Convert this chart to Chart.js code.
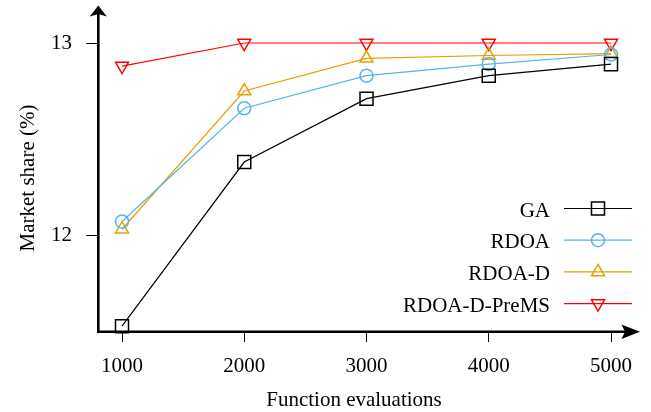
<!DOCTYPE html>
<html><head><meta charset="utf-8">
<script src="https://cdn.jsdelivr.net/npm/chart.js@4/dist/chart.umd.min.js"></script>
<style>html,body{margin:0;padding:0;background:#fff}canvas{display:block}</style>
</head><body>
<canvas id="c" width="651" height="412"></canvas>
<script>
const evaluations = [1000, 2000, 3000, 4000, 5000];
const seriesNames = ['GA', 'RDOA', 'RDOA-D', 'RDOA-D-PreMS'];
const gaValues = [11.525, 12.38, 12.71, 12.83, 12.89];
const rdoaValues = [12.07, 12.66, 12.83, 12.89, 12.94];
const rdoaDValues = [12.03, 12.75, 12.92, 12.935, 12.945];
const preMSValues = [12.88, 13.0, 13.0, 13.0, 13.0];
const yTickValues = [12, 13];
const xTitle = 'Function evaluations';
const yTitle = 'Market share (%)';

const FONT = '"Liberation Serif", "Times New Roman", serif';

function mk(label, values, color, style, radius, rotation) {
  return {
    label: label,
    data: evaluations.map((x, i) => ({ x: x, y: values[i] })),
    borderColor: color,
    borderWidth: 1.2,
    pointStyle: style,
    pointRadius: radius,
    pointHoverRadius: radius,
    pointRotation: rotation || 0,
    pointBorderWidth: 1.5,
    pointBorderColor: color,
    pointBackgroundColor: 'rgba(0,0,0,0)',
    fill: false,
    clip: false,
    tension: 0
  };
}

const datasets = [
  mk(seriesNames[0], gaValues, '#000000', 'rect', 9.2, 0),
  mk(seriesNames[1], rdoaValues, '#56B4E9', 'circle', 6.5, 0),
  mk(seriesNames[2], rdoaDValues, '#E69F00', 'triangle', 7.5, 0),
  mk(seriesNames[3], preMSValues, '#FF0000', 'triangle', 7.5, 180)
];

const decorPlugin = {
  id: 'decor',
  beforeDatasetsDraw(chart) {
    const ctx = chart.ctx;
    ctx.save();
    ctx.fillStyle = '#000';
    ctx.strokeStyle = '#000';
    ctx.lineWidth = 2.6;
    const ax = 98.3, ay = 331.7;
    ctx.beginPath(); ctx.moveTo(ax, ay + 1.3); ctx.lineTo(ax, 12); ctx.stroke();
    ctx.beginPath();
    ctx.moveTo(ax, 5.5); ctx.lineTo(ax + 8.5, 16.5); ctx.lineTo(ax, 14); ctx.lineTo(ax - 8.5, 16.5); ctx.closePath(); ctx.fill();
    ctx.beginPath(); ctx.moveTo(ax - 1.3, ay); ctx.lineTo(630, ay); ctx.stroke();
    ctx.beginPath();
    ctx.moveTo(640, ay); ctx.lineTo(621.5, ay - 7.3); ctx.lineTo(625, ay); ctx.lineTo(621.5, ay + 7.3); ctx.closePath(); ctx.fill();
    ctx.restore();
  },
  afterDraw(chart) {
    const ctx = chart.ctx;
    ctx.save();
    ctx.fillStyle = '#000';
    ctx.font = '21px ' + FONT;
    ctx.textAlign = 'center';
    ctx.textBaseline = 'alphabetic';
    ctx.fillText(xTitle, 354, 406);
    ctx.save();
    ctx.translate(34.3, 178);
    ctx.rotate(-Math.PI / 2);
    ctx.fillText(yTitle, 0, 0);
    ctx.restore();
    chart.data.datasets.forEach((ds, i) => {
      const y = 208.5 + i * 31.7;
      ctx.fillStyle = '#000';
      ctx.textAlign = 'right';
      ctx.textBaseline = 'alphabetic';
      ctx.fillText(ds.label, 550, y + 8);
      ctx.strokeStyle = ds.borderColor;
      ctx.lineWidth = ds.borderWidth;
      ctx.beginPath(); ctx.moveTo(564, y); ctx.lineTo(632, y); ctx.stroke();
      ctx.fillStyle = 'rgba(0,0,0,0)';
      ctx.strokeStyle = ds.pointBorderColor;
      ctx.lineWidth = ds.pointBorderWidth;
      Chart.helpers.drawPoint(ctx, {
        pointStyle: ds.pointStyle,
        radius: ds.pointRadius,
        rotation: ds.pointRotation || 0,
        borderWidth: ds.pointBorderWidth
      }, 598, y);
    });
    ctx.restore();
  }
};

new Chart(document.getElementById('c'), {
  type: 'line',
  data: { datasets: datasets },
  options: {
    responsive: false,
    animation: false,
    devicePixelRatio: 1,
    layout: { autoPadding: false, padding: { left: 0, top: 7, right: 12, bottom: 0 } },
    plugins: { legend: { display: false }, title: { display: false }, tooltip: { enabled: false } },
    elements: { line: { borderJoinStyle: 'miter' } },
    scales: {
      x: {
        type: 'linear',
        min: 795.5,
        max: 5229,
        afterFit: s => { s.height = 81; s.paddingLeft = 0; s.paddingRight = 0; },
        afterBuildTicks: s => { s.ticks = evaluations.map(v => ({ value: v })); },
        ticks: {
          callback: v => String(v),
          color: '#000',
          font: { family: FONT, size: 21 },
          padding: 12,
          maxRotation: 0,
          autoSkip: false
        },
        grid: { display: true, drawOnChartArea: false, drawTicks: true, tickLength: 11, color: '#000', lineWidth: 1 },
        border: { display: false },
        title: { display: false }
      },
      y: {
        type: 'linear',
        min: 11.5,
        max: 13.1875,
        afterFit: s => { s.width = 97; s.paddingTop = 0; s.paddingBottom = 0; },
        afterBuildTicks: s => { s.ticks = yTickValues.map(v => ({ value: v })); },
        ticks: {
          callback: v => String(v),
          color: '#000',
          font: { family: FONT, size: 21 },
          padding: 14
        },
        grid: { display: true, drawOnChartArea: false, drawTicks: true, tickLength: 11, color: '#000', lineWidth: 1 },
        border: { display: false },
        title: { display: false }
      }
    }
  },
  plugins: [decorPlugin]
});
</script>
</body></html>
